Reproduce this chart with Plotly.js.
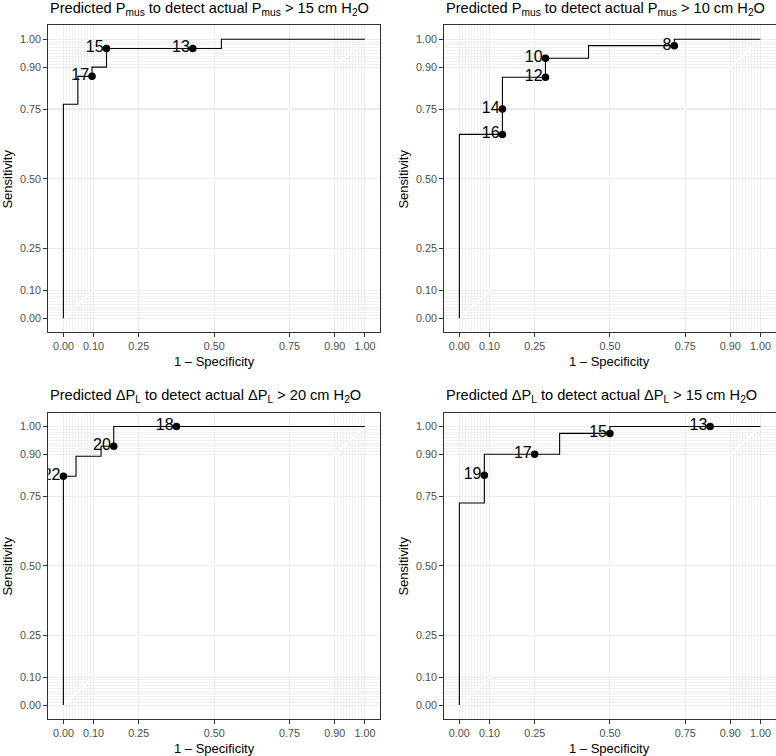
<!DOCTYPE html>
<html><head><meta charset="utf-8">
<script src="https://cdn.plot.ly/plotly-3.0.1.min.js"></script>
<style>html,body{margin:0;padding:0;background:#fff}</style>
</head><body><div id="chart" style="width:776px;height:756px"></div>
<script>
// ---- tick definitions ----
const tickVals = [0, 0.1, 0.25, 0.5, 0.75, 0.9, 1];
const tickText = ["0.00", "0.10", "0.25", "0.50", "0.75", "0.90", "1.00"];
const minorVals = [0, 0.01, 0.02, 0.03, 0.04, 0.05, 0.06, 0.07, 0.08, 0.09, 0.1,
                   0.9, 0.91, 0.92, 0.93, 0.94, 0.95, 0.96, 0.97, 0.98, 0.99, 1];

// ---- panel titles ----
const titles = [
  "Predicted P<sub>mus</sub> to detect actual P<sub>mus</sub> &gt; 15 cm H<sub>2</sub>O",
  "Predicted P<sub>mus</sub> to detect actual P<sub>mus</sub> &gt; 10 cm H<sub>2</sub>O",
  "Predicted \u0394P<sub>L</sub> to detect actual \u0394P<sub>L</sub> &gt; 20 cm H<sub>2</sub>O",
  "Predicted \u0394P<sub>L</sub> to detect actual \u0394P<sub>L</sub> &gt; 15 cm H<sub>2</sub>O"
];

// ---- ROC curves (operating points; drawn as steps) ----
const p1Fpr = [0, 0, 0.048, 0.095, 0.143, 0.524, 1];
const p1Tpr = [0, 0.767, 0.867, 0.9, 0.967, 1, 1];
const p1PtFpr = [0.095, 0.143, 0.429];
const p1PtTpr = [0.867, 0.967, 0.967];
const p1PtLbl = ["17", "15", "13"];

const p2Fpr = [0, 0, 0.143, 0.286, 0.429, 0.714, 1];
const p2Tpr = [0, 0.659, 0.864, 0.932, 0.977, 1, 1];
const p2PtFpr = [0.143, 0.143, 0.286, 0.286, 0.714];
const p2PtTpr = [0.659, 0.75, 0.864, 0.932, 0.977];
const p2PtLbl = ["16", "14", "12", "10", "8"];

const p3Fpr = [0, 0, 0.042, 0.125, 0.167, 1];
const p3Tpr = [0, 0.821, 0.893, 0.929, 1, 1];
const p3PtFpr = [0, 0.167, 0.375];
const p3PtTpr = [0.821, 0.929, 1];
const p3PtLbl = ["22", "20", "18"];

const p4Fpr = [0, 0, 0.083, 0.333, 0.5, 1];
const p4Tpr = [0, 0.725, 0.9, 0.975, 1, 1];
const p4PtFpr = [0.083, 0.25, 0.5, 0.833];
const p4PtTpr = [0.825, 0.9, 0.975, 1];
const p4PtLbl = ["19", "17", "15", "13"];

const diagonal = [0, 1];

const panels = [
  {fpr: p1Fpr, tpr: p1Tpr, pf: p1PtFpr, pt: p1PtTpr, lbl: p1PtLbl},
  {fpr: p2Fpr, tpr: p2Tpr, pf: p2PtFpr, pt: p2PtTpr, lbl: p2PtLbl},
  {fpr: p3Fpr, tpr: p3Tpr, pf: p3PtFpr, pt: p3PtTpr, lbl: p3PtLbl},
  {fpr: p4Fpr, tpr: p4Tpr, pf: p4PtFpr, pt: p4PtTpr, lbl: p4PtLbl}
];

// ---- layout geometry (pixels) ----
const W = 776, H = 756;
const colPx = [[48.3, 380], [444.3, 775.5]];
const rowPx = [[25.3, 332.3], [412.5, 719]];

const FONT = "Liberation Sans, Arial, Helvetica, sans-serif";
const traces = [];
const layout = {
  width: W, height: H,
  margin: {l: 0, r: 0, t: 0, b: 0},
  paper_bgcolor: "#ffffff", plot_bgcolor: "#ffffff",
  showlegend: false,
  font: {family: FONT},
  annotations: []
};

panels.forEach((p, i) => {
  const r = Math.floor(i / 2), c = i % 2;
  const n = i + 1;
  const xa = n === 1 ? "x" : "x" + n, ya = n === 1 ? "y" : "y" + n;
  const xk = n === 1 ? "xaxis" : "xaxis" + n, yk = n === 1 ? "yaxis" : "yaxis" + n;
  const xd = [colPx[c][0] / W, colPx[c][1] / W];
  const yd = [1 - rowPx[r][1] / H, 1 - rowPx[r][0] / H];
  const axBase = {
    range: [-0.05, 1.05], tickmode: "array", tickvals: tickVals, ticktext: tickText,
    showgrid: true, gridcolor: "#EBEBEB", gridwidth: 1.1, zeroline: false,
    showline: true, mirror: true, linecolor: "#333333", linewidth: 1,
    ticks: "outside", ticklen: 4, tickwidth: 1, tickcolor: "#333333",
    tickfont: {family: FONT, size: 10.8, color: "#4D4D4D"},
    minor: {tickmode: "array", tickvals: minorVals, showgrid: true, gridcolor: "#E6E6E6", gridwidth: 0.6, ticks: ""},
    fixedrange: true
  };
  layout[xk] = Object.assign({}, axBase, {domain: xd, anchor: ya});
  layout[yk] = Object.assign({}, axBase, {domain: yd, anchor: xa});

  traces.push({x: diagonal, y: diagonal, xaxis: xa, yaxis: ya, mode: "lines",
    line: {color: "#ffffff", width: 1.3}, hoverinfo: "skip"});
  traces.push({x: p.fpr, y: p.tpr, xaxis: xa, yaxis: ya, mode: "lines",
    line: {color: "#000000", width: 1.1, shape: "hv"}, hoverinfo: "skip"});
  traces.push({x: p.pf, y: p.pt, xaxis: xa, yaxis: ya, mode: "markers",
    cliponaxis: true, marker: {color: "#000000", size: 7.5}, hoverinfo: "skip"});
  traces.push({x: p.pf, y: p.pt, xaxis: xa, yaxis: ya, mode: "markers+text",
    text: p.lbl, textposition: "middle left", cliponaxis: true,
    textfont: {family: FONT, size: 16, color: "#000000"},
    marker: {color: "#000000", size: 3}, hoverinfo: "skip"});

  // panel title
  layout.annotations.push({text: titles[i], xref: "paper", yref: "paper",
    x: xd[0], y: 1 - (rowPx[r][0] - 16.3) / H, xanchor: "left", yanchor: "middle",
    showarrow: false, font: {family: FONT, size: 14.6, color: "#000000"}});
  // x axis title
  layout.annotations.push({text: "1 \u2013 Specificity", xref: "paper", yref: "paper",
    x: (xd[0] + xd[1]) / 2, y: 1 - (rowPx[r][1] + 29) / H, xanchor: "center", yanchor: "middle",
    showarrow: false, font: {family: FONT, size: 13, color: "#000000"}});
  // y axis title
  layout.annotations.push({text: "Sensitivity", xref: "paper", yref: "paper", textangle: -90,
    x: (colPx[c][0] - 40.5) / W, y: (yd[0] + yd[1]) / 2, xanchor: "center", yanchor: "middle",
    showarrow: false, font: {family: FONT, size: 13, color: "#000000"}});
});

Plotly.newPlot("chart", traces, layout, {staticPlot: true});
</script></body></html>
